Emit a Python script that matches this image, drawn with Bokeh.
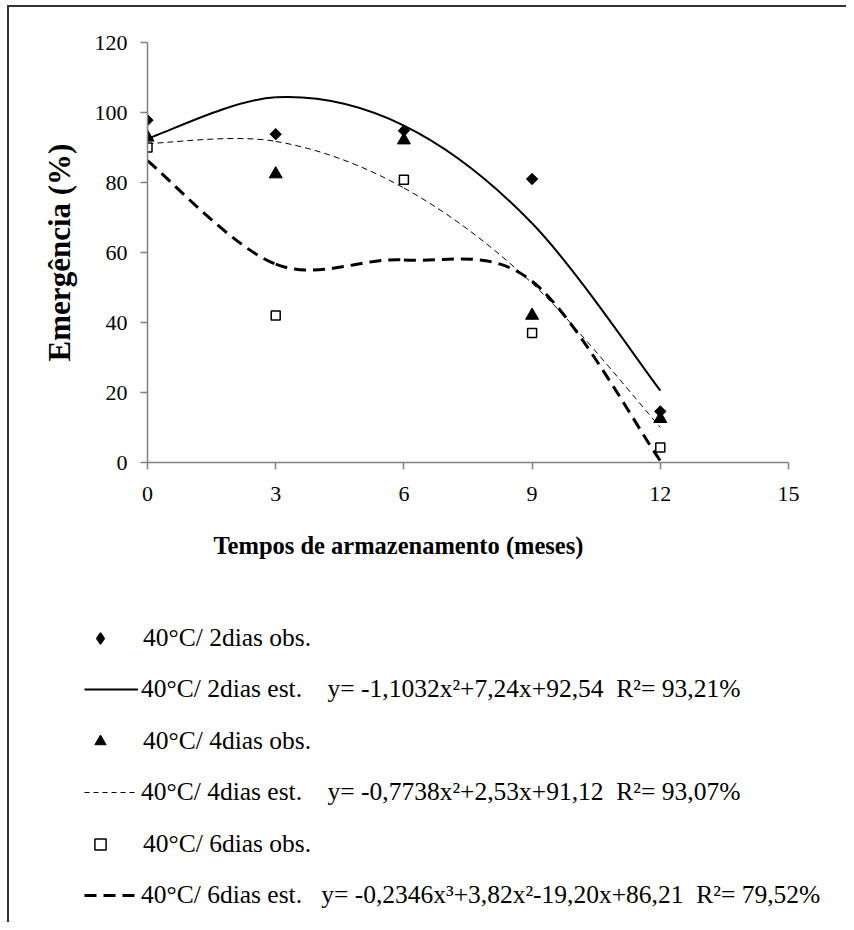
import math
from bokeh.plotting import figure
from bokeh.layouts import column
from bokeh.models import Range1d, Legend, LegendItem, Label, FixedTicker
from bokeh.embed import file_html
from bokeh.resources import INLINE

# ---------------- data ----------------
meses = [0, 3, 6, 9, 12]
obs_2dias = [97.8, 93.8, 94.8, 81.0, 14.6]
obs_4dias = [92.9, 82.4, 92.1, 42.0, 12.5]
obs_6dias = [90.0, 42.0, 80.8, 37.0, 4.3]
est_2dias = [92.54, 104.33, 96.26, 68.34, 20.56]
est_4dias = [91.12, 91.75, 78.44, 51.21, 10.05]
est_6dias = [86.21, 56.66, 57.86, 51.81, 0.50]
x_ticks = [0, 3, 6, 9, 12, 15]
y_ticks = [0, 20, 40, 60, 80, 100, 120]

NB = "\u00a0"
label_obs = ["40°C/ 2dias obs.", "40°C/ 4dias obs.", "40°C/ 6dias obs."]
label_est = [
    "40°C/ 2dias est." + NB * 4 + "y= -1,1032x²+7,24x+92,54" + NB * 2 + "R²= 93,21%",
    "40°C/ 4dias est." + NB * 4 + "y= -0,7738x²+2,53x+91,12" + NB * 2 + "R²= 93,07%",
    "40°C/ 6dias est." + NB * 3 + "y= -0,2346x³+3,82x²-19,20x+86,21" + NB * 2 + "R²= 79,52%",
]
x_title = "Tempos de armazenamento (meses)"
y_title = "Emergência (%)"

FONT = "Liberation Serif"
AXIS_COLOR = "#808080"
NAN = float("nan")


def smooth_segments(xs, ys):
    """Control points of a smoothed (Excel-like) line through the points."""
    n = len(xs)
    out = {k: [] for k in ("x0", "y0", "x1", "y1", "cx0", "cy0", "cx1", "cy1")}
    for i in range(n - 1):
        im1 = max(i - 1, 0)
        ip2 = min(i + 2, n - 1)
        out["x0"].append(xs[i]); out["y0"].append(ys[i])
        out["x1"].append(xs[i + 1]); out["y1"].append(ys[i + 1])
        out["cx0"].append(xs[i] + (xs[i + 1] - xs[im1]) / 6.0)
        out["cy0"].append(ys[i] + (ys[i + 1] - ys[im1]) / 6.0)
        out["cx1"].append(xs[i + 1] - (xs[ip2] - xs[i]) / 6.0)
        out["cy1"].append(ys[i + 1] - (ys[ip2] - ys[i]) / 6.0)
    return out


W = 846
H1 = 525
H2 = 922 - H1

# ---------------- chart ----------------
p = figure(width=W, height=H1, output_backend="svg", toolbar_location=None,
           x_range=Range1d(0, 15), y_range=Range1d(0, 120),
           min_border_left=147, min_border_right=58,
           min_border_top=42, min_border_bottom=H1 - 462)
p.frame_align = False
p.title.visible = False
p.outline_line_color = None
p.border_fill_color = None
p.xgrid.visible = False
p.ygrid.visible = False

for ax in (p.xaxis[0], p.yaxis[0]):
    ax.axis_line_color = AXIS_COLOR
    ax.axis_line_width = 1.5
    ax.major_tick_line_color = AXIS_COLOR
    ax.major_tick_line_width = 1.5
    ax.major_tick_out = 7
    ax.major_tick_in = 0
    ax.minor_tick_line_color = None
    ax.major_label_text_font = FONT
    ax.major_label_text_font_size = "22px"
    ax.major_label_text_color = "black"

p.xaxis.ticker = FixedTicker(ticks=x_ticks)
p.yaxis.ticker = FixedTicker(ticks=y_ticks)
p.xaxis.major_label_standoff = 17
p.yaxis.major_label_standoff = 13
p.yaxis.axis_label = y_title
p.yaxis.axis_label_text_font = FONT
p.yaxis.axis_label_text_font_style = "bold"
p.yaxis.axis_label_text_font_size = "31px"
p.yaxis.axis_label_text_color = "black"
p.yaxis.axis_label_standoff = 15

s2 = smooth_segments(meses, est_2dias)
s4 = smooth_segments(meses, est_4dias)
s6 = smooth_segments(meses, est_6dias)
p.bezier(line_color="black", line_width=2, **s2)
p.bezier(line_color="black", line_width=1, line_dash="6 4", **s4)
p.bezier(line_color="black", line_width=3, line_dash="12 7", **s6)

obs2_style = dict(marker="square", angle=math.pi / 4, fill_color="black", line_color="black")
obs4_style = dict(marker="triangle", fill_color="black", line_color="black")
obs6_style = dict(marker="square", fill_color="white", line_color="black", line_width=1.5)
est2_style = dict(line_color="black", line_width=2)
est4_style = dict(line_color="black", line_width=1, line_dash="5 4")
est6_style = dict(line_color="black", line_width=3, line_dash="12 7")

p.scatter(meses, obs_2dias, size=8, **obs2_style)
p.scatter(meses, obs_4dias, size=13, **obs4_style)
p.scatter(meses, obs_6dias, size=9, **obs6_style)

# ---------------- legend area ----------------
q = figure(width=W, height=H2, output_backend="svg", toolbar_location=None,
           x_range=Range1d(0, W), y_range=Range1d(0, H2),
           min_border=0, min_border_left=0, min_border_right=0,
           min_border_top=0, min_border_bottom=0,
           x_axis_type=None, y_axis_type=None)
q.frame_align = False
q.title.visible = False
q.outline_line_color = None
q.border_fill_color = None
q.background_fill_color = None
q.xgrid.visible = False
q.ygrid.visible = False

# swatch-only renderers (no visible data) used by the legends
l_obs2 = q.scatter(x=[NAN], y=[NAN], marker="diamond", fill_color="black", line_color="black",
                   line_width=1.5)
l_obs4 = q.scatter(x=[NAN], y=[NAN], **obs4_style)
l_obs6 = q.scatter(x=[NAN], y=[NAN], marker="square", fill_color="white", line_color="black",
                   line_width=1.5)
l_est2 = q.line(x=[NAN, NAN], y=[NAN, NAN], **est2_style)
l_est4 = q.line(x=[NAN, NAN], y=[NAN, NAN], **est4_style)
l_est6 = q.line(x=[NAN, NAN], y=[NAN, NAN], **est6_style)

common = dict(orientation="vertical", padding=0, margin=0, border_line_color=None,
              background_fill_alpha=0, label_text_font=FONT,
              label_text_font_size="25.5px", label_text_color="black",
              glyph_height=30, label_height=30, spacing=73)

leg_obs = Legend(items=[LegendItem(label=label_obs[0], renderers=[l_obs2]),
                        LegendItem(label=label_obs[1], renderers=[l_obs4]),
                        LegendItem(label=label_obs[2], renderers=[l_obs6])],
                 location=(86, 63), glyph_width=28, label_standoff=29, **common)
leg_est = Legend(items=[LegendItem(label=label_est[0], renderers=[l_est2]),
                        LegendItem(label=label_est[1], renderers=[l_est4]),
                        LegendItem(label=label_est[2], renderers=[l_est6])],
                 location=(84, 12), glyph_width=54, label_standoff=3, **common)
q.add_layout(leg_obs)
q.add_layout(leg_est)

q.add_layout(Label(x=213, y=H2 - 20, text=x_title,
                   text_font=FONT, text_font_style="bold", text_font_size="24.5px",
                   text_baseline="middle", text_align="left", text_color="black"))

page = column(p, q, spacing=0)
page.styles = {
    "background": "linear-gradient(#333333, #333333) 7px 5px / 2px calc(100% - 5px) no-repeat, "
                  "linear-gradient(#333333, #333333) 7px 5px / calc(100% - 7px) 2px no-repeat"
}

open("out.html", "w").write(file_html(page, INLINE))
